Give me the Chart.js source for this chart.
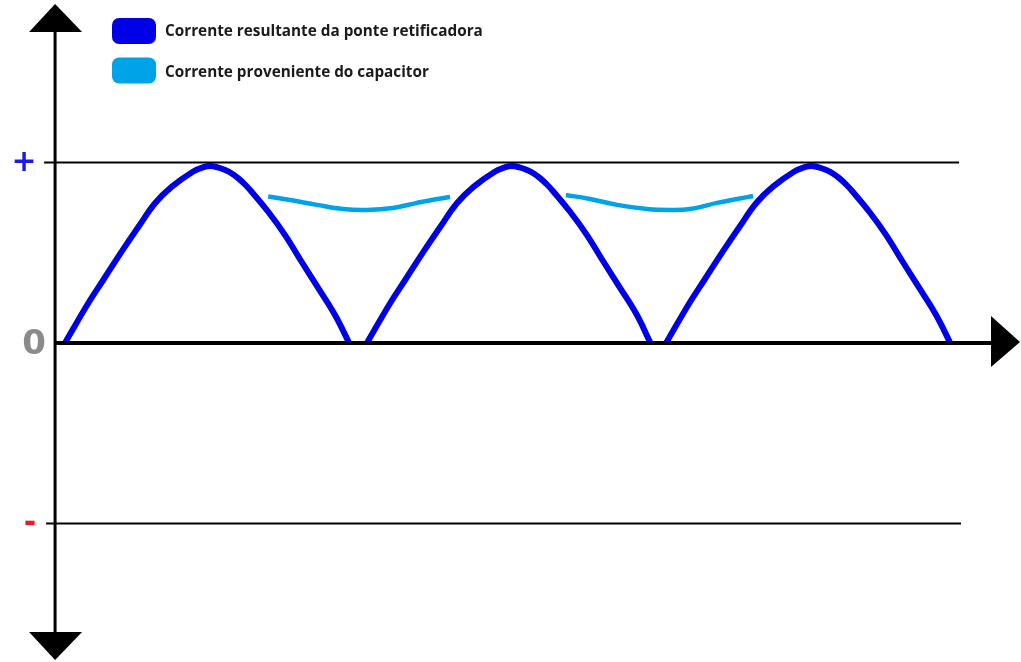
<!DOCTYPE html>
<html>
<head>
<meta charset="utf-8">
<script src="https://cdn.jsdelivr.net/npm/chart.js@4.4.1/dist/chart.umd.min.js"></script>
<style>
  html, body { margin: 0; padding: 0; background: #ffffff; }
  #wrap { position: relative; width: 1021px; height: 662px; }
</style>
</head>
<body>
<div id="wrap"><canvas id="c"></canvas></div>
<script>
// ---- Data (time in arbitrary units, current in normalised units) ----
const legendLabels = ["Corrente resultante da ponte retificadora", "Corrente proveniente do capacitor"];
const levelLabels = ["+", "0", "-"];
const levelValues = [1, 0, -1];

const arch1T = [0, 0.77, 1.27, 1.88, 2.44, 2.99, 3.55, 4.26, 4.60, 4.82, 5.07, 5.32, 5.54, 5.76, 5.98, 6.20, 6.75, 7.31, 7.86, 8.42, 8.97, 9.44];
const arch1I = [0, 0.220, 0.349, 0.506, 0.644, 0.774, 0.866, 0.950, 0.974, 0.981, 0.973, 0.958, 0.939, 0.912, 0.878, 0.838, 0.727, 0.598, 0.450, 0.303, 0.155, 0];

const arch2T = [10.03, 10.80, 11.30, 11.91, 12.47, 13.02, 13.58, 14.29, 14.63, 14.85, 15.10, 15.35, 15.57, 15.79, 16.01, 16.23, 16.78, 17.34, 17.89, 18.45, 19.00, 19.45];
const arch2I = [0, 0.220, 0.349, 0.506, 0.644, 0.774, 0.866, 0.950, 0.974, 0.981, 0.973, 0.958, 0.939, 0.912, 0.878, 0.838, 0.727, 0.598, 0.450, 0.303, 0.155, 0];

const arch3T = [19.97, 20.74, 21.24, 21.85, 22.41, 22.96, 23.52, 24.23, 24.57, 24.79, 25.04, 25.29, 25.51, 25.73, 25.95, 26.17, 26.72, 27.28, 27.83, 28.39, 28.94, 29.41];
const arch3I = [0, 0.220, 0.349, 0.506, 0.644, 0.774, 0.866, 0.950, 0.974, 0.981, 0.973, 0.958, 0.939, 0.912, 0.878, 0.838, 0.727, 0.598, 0.450, 0.303, 0.155, 0];

const cap1T = [6.75, 7.48, 8.37, 9.24, 10.03, 10.90, 11.69, 12.36, 12.79];
const cap1I = [0.811, 0.792, 0.765, 0.742, 0.737, 0.748, 0.776, 0.798, 0.809];

const cap2T = [16.64, 17.44, 18.34, 19.34, 20.10, 20.76, 21.66, 22.33, 22.86];
const cap2I = [0.820, 0.798, 0.765, 0.742, 0.737, 0.742, 0.776, 0.798, 0.814];

// ---- Styles ----
const DARK = "#0000e6";
const LIGHT = "#00a2e8";

function pts(t, v) { return t.map((x, i) => ({ x: x, y: v[i] })); }

function lineDs(label, t, v, color, w) {
  return {
    label: label, data: pts(t, v), borderColor: color, backgroundColor: color,
    borderWidth: w, pointRadius: 0, fill: false, tension: 0.4,
    borderCapStyle: "butt", borderJoinStyle: "round"
  };
}

const datasets = [
  lineDs(legendLabels[0], arch1T, arch1I, DARK, 6),
  lineDs(legendLabels[0], arch2T, arch2I, DARK, 6),
  lineDs(legendLabels[0], arch3T, arch3I, DARK, 6),
  lineDs(legendLabels[1], cap1T, cap1I, LIGHT, 4.5),
  lineDs(legendLabels[1], cap2T, cap2I, LIGHT, 4.5)
];

const axesPlugin = {
  id: "axesPlugin",
  afterDatasetsDraw(chart) {
    const ctx = chart.ctx;
    const xs = chart.scales.x, ys = chart.scales.y;
    const yAxisX = xs.getPixelForValue(-0.33);
    const y0 = ys.getPixelForValue(0);
    const yP = ys.getPixelForValue(levelValues[0]);
    const yN = ys.getPixelForValue(levelValues[2]);
    const lineEnd = xs.getPixelForValue(29.7);
    ctx.save();
    ctx.strokeStyle = "#000"; ctx.fillStyle = "#000";
    // reference lines
    ctx.lineWidth = 2;
    ctx.beginPath(); ctx.moveTo(yAxisX - 11, yP); ctx.lineTo(lineEnd, yP); ctx.stroke();
    ctx.beginPath(); ctx.moveTo(yAxisX - 9, yN); ctx.lineTo(lineEnd + 2, yN); ctx.stroke();
    // y axis
    ctx.lineWidth = 3;
    ctx.beginPath(); ctx.moveTo(yAxisX, 20); ctx.lineTo(yAxisX, 645); ctx.stroke();
    // x axis
    ctx.lineWidth = 4;
    ctx.beginPath(); ctx.moveTo(yAxisX, y0); ctx.lineTo(995, y0); ctx.stroke();
    // arrows
    ctx.beginPath(); ctx.moveTo(yAxisX, 4); ctx.lineTo(yAxisX + 27, 32); ctx.lineTo(yAxisX - 26, 32); ctx.closePath(); ctx.fill();
    ctx.beginPath(); ctx.moveTo(yAxisX, 660); ctx.lineTo(yAxisX + 27, 632); ctx.lineTo(yAxisX - 26, 632); ctx.closePath(); ctx.fill();
    ctx.beginPath(); ctx.moveTo(1020, y0 - 1); ctx.lineTo(991, 316); ctx.lineTo(991, 367); ctx.closePath(); ctx.fill();
    // level labels
    ctx.textAlign = "center"; ctx.textBaseline = "middle";
    ctx.font = "bold 30px 'DejaVu Sans'";
    ctx.fillStyle = "#1c1ce0";
    ctx.fillText(levelLabels[0], 24, yP + 1);
    ctx.font = "bold 34px 'DejaVu Sans'";
    ctx.fillStyle = "#8a8a8a";
    ctx.fillText(levelLabels[1], 34, y0 + 2);
    ctx.font = "bold 30px 'DejaVu Sans'";
    ctx.fillStyle = "#ed1c24";
    ctx.fillText(levelLabels[2], 30, yN + 1);
    // legend
    const colors = [DARK, LIGHT];
    const boxes = [31, 70.5];
    const texts = [32, 73];
    ctx.textAlign = "left";
    ctx.font = "bold 15.3px 'Open Sans'";
    legendLabels.forEach((lab, i) => {
      ctx.fillStyle = colors[i];
      ctx.beginPath();
      ctx.roundRect(112, boxes[i] - 13, 44, 26, 7);
      ctx.fill();
      ctx.fillStyle = "#1a1a1a";
      ctx.fillText(lab, 165, texts[i]);
    });
    ctx.restore();
  }
};

new Chart(document.getElementById("c"), {
  type: "line",
  data: { datasets: datasets },
  options: {
    responsive: true, maintainAspectRatio: false, animation: false,
    layout: { padding: 0 },
    plugins: { legend: { display: false }, tooltip: { enabled: false } },
    scales: {
      x: { type: "linear", display: false, min: -2.16, max: 31.76 },
      y: { type: "linear", display: false, min: -1.767, max: 1.900 }
    }
  },
  plugins: [axesPlugin]
});
</script>
</body>
</html>
